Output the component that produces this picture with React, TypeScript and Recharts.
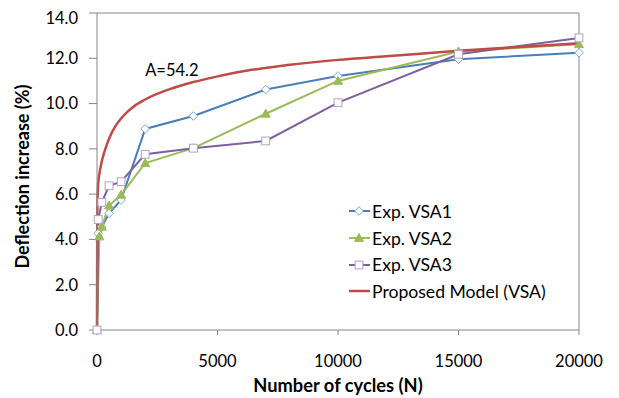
import React from 'react';
import { LineChart, Line, XAxis, YAxis, ReferenceLine, ReferenceDot, Legend } from 'recharts';

const cycles1 = [0, 50, 200, 500, 1000, 2000, 4000, 7000, 10000, 15000, 20000];
const vsa1 = [0, 4.27, 4.56, 5.15, 5.74, 8.88, 9.45, 10.62, 11.22, 11.96, 12.24];

const cycles2 = [0, 100, 200, 500, 1000, 2000, 4000, 7000, 10000, 15000, 20000];
const vsa2 = [0, 4.13, 4.56, 5.5, 5.97, 7.37, 8.03, 9.55, 11.0, 12.3, 12.62];

const cycles3 = [0, 50, 200, 500, 1000, 2000, 4000, 7000, 10000, 15000, 20000];
const vsa3 = [0, 4.88, 5.64, 6.37, 6.55, 7.76, 8.03, 8.35, 10.04, 12.18, 12.9];

const modelCycles = [0, 10, 25, 50, 100, 200, 300, 500, 750, 1000, 1250, 1500, 2000, 3000, 4000, 5000, 6000, 7000, 8000, 10000, 12000, 15000, 17500, 20000];
const modelVals = [0, 4.8, 5.9, 6.45, 6.9, 7.45, 7.85, 8.45, 8.98, 9.34, 9.62, 9.85, 10.18, 10.63, 10.95, 11.2, 11.42, 11.57, 11.71, 11.93, 12.09, 12.33, 12.5, 12.66];

const xTicks = [0, 5000, 10000, 15000, 20000];
const yTicks = [0, 2, 4, 6, 8, 10, 12, 14];

const seriesNames = ['Exp. VSA1', 'Exp. VSA2', 'Exp. VSA3', 'Proposed Model (VSA)'];
const annotation = 'A=54.2';

const toPoints = (xs: number[], ys: number[]) => xs.map((x, i) => ({ x, y: ys[i] }));
const d1 = toPoints(cycles1, vsa1);
const d2 = toPoints(cycles2, vsa2);
const d3 = toPoints(cycles3, vsa3);
const dm = toPoints(modelCycles, modelVals);

const BLUE = '#4A7EBB';
const BLUE_M = '#7DA7D9';
const GREEN = '#9BBB59';
const PURPLE = '#7D60A0';
const PURPLE_M = '#B3A2C7';
const RED = '#BE4B48';
const FONT = 'Lato, "Open Sans", sans-serif';

const Diamond = (props: any) => {
  const { cx, cy, key } = props;
  if (cx == null || cy == null) return null;
  const r = 4.3;
  return <path key={key} d={`M${cx},${cy - r}L${cx + r},${cy}L${cx},${cy + r}L${cx - r},${cy}Z`} fill="#fff" stroke={BLUE_M} strokeWidth={1} />;
};
const Triangle = (props: any) => {
  const { cx, cy, key } = props;
  if (cx == null || cy == null) return null;
  const r = 4.5;
  return <path key={key} d={`M${cx},${cy - r}L${cx + r},${cy + r * 0.75}L${cx - r},${cy + r * 0.75}Z`} fill={GREEN} stroke={GREEN} strokeWidth={1} />;
};
const Square = (props: any) => {
  const { cx, cy, key } = props;
  if (cx == null || cy == null) return null;
  const r = 3.9;
  return <rect key={key} x={cx - r} y={cy - r} width={2 * r} height={2 * r} fill="#fff" stroke={PURPLE_M} strokeWidth={1} />;
};

const LegendIcon = ({ idx }: { idx: number }) => {
  const colors = [BLUE, GREEN, PURPLE, RED];
  const markers = [
    <Diamond cx={10} cy={7} />,
    <Triangle cx={10} cy={7} />,
    <Square cx={10} cy={7} />,
    null,
  ];
  return (
    <svg width={21} height={14} style={{ display: 'block' }}>
      <line x1={0} y1={7} x2={21} y2={7} stroke={colors[idx]} strokeWidth={idx === 3 ? 2.5 : 2} />
      {markers[idx]}
    </svg>
  );
};

const renderLegend = () => (
  <div style={{ fontFamily: FONT, fontSize: 17.6, color: '#000' }}>
    {seriesNames.map((n, i) => (
      <div key={n} style={{ display: 'flex', alignItems: 'center', height: 26.7, whiteSpace: 'nowrap' }}>
        <LegendIcon idx={i} />
        <span style={{ marginLeft: 2 }}>{n}</span>
      </div>
    ))}
  </div>
);

export default function App() {
  const tickStyle = { fontFamily: FONT, fontSize: 16.5, fill: '#000' };
  const titleStyle = { fontFamily: FONT, fontSize: 18.3, fontWeight: 700, fill: '#000' };
  return (
    <LineChart width={611} height={390} margin={{ top: 5, right: 40, bottom: 0, left: 0 }}>
      <XAxis
        type="number"
        dataKey="x"
        domain={[0, 20000]}
        ticks={xTicks}
        allowDuplicatedCategory={false}
        stroke="#868686"
        tickSize={5}
        tickMargin={20}
        tick={tickStyle}
        height={68}
        label={{ value: 'Number of cycles (N)', position: 'insideBottom', offset: 6, style: titleStyle }}
      />
      <YAxis
        type="number"
        domain={[0, 14]}
        ticks={yTicks}
        tickFormatter={(v: number) => v.toFixed(1)}
        stroke="#868686"
        tickSize={8}
        tickMargin={11}
        tick={tickStyle}
        width={89}
        label={{ value: 'Deflection increase (%)', angle: -90, position: 'insideLeft', offset: 14.5, dy: 5, style: { ...titleStyle, fontSize: 18, textAnchor: 'middle' } }}
      />
      <ReferenceLine y={14} stroke="#868686" strokeWidth={1} />
      <ReferenceLine x={20000} stroke="#868686" strokeWidth={1} />
      <Legend content={renderLegend} layout="vertical" align="center" verticalAlign="middle" wrapperStyle={{ position: 'absolute', left: 341, top: 190, width: 260 }} />
      <Line data={d1} dataKey="y" name={seriesNames[0]} stroke={BLUE} strokeWidth={2} dot={Diamond} activeDot={false} isAnimationActive={false} type="linear" />
      <Line data={d2} dataKey="y" name={seriesNames[1]} stroke={GREEN} strokeWidth={2} dot={Triangle} activeDot={false} isAnimationActive={false} type="linear" />
      <Line data={d3} dataKey="y" name={seriesNames[2]} stroke={PURPLE} strokeWidth={2} dot={Square} activeDot={false} isAnimationActive={false} type="linear" />
      <Line data={dm} dataKey="y" name={seriesNames[3]} stroke={RED} strokeWidth={2.5} dot={false} activeDot={false} isAnimationActive={false} type="monotone" />
      <ReferenceDot x={2000} y={11.46} r={0} stroke="none" fill="none" label={{ value: annotation, position: 'right', offset: 0, style: { fontFamily: FONT, fontSize: 16.5, fill: '#000' } }} />
    </LineChart>
  );
}
